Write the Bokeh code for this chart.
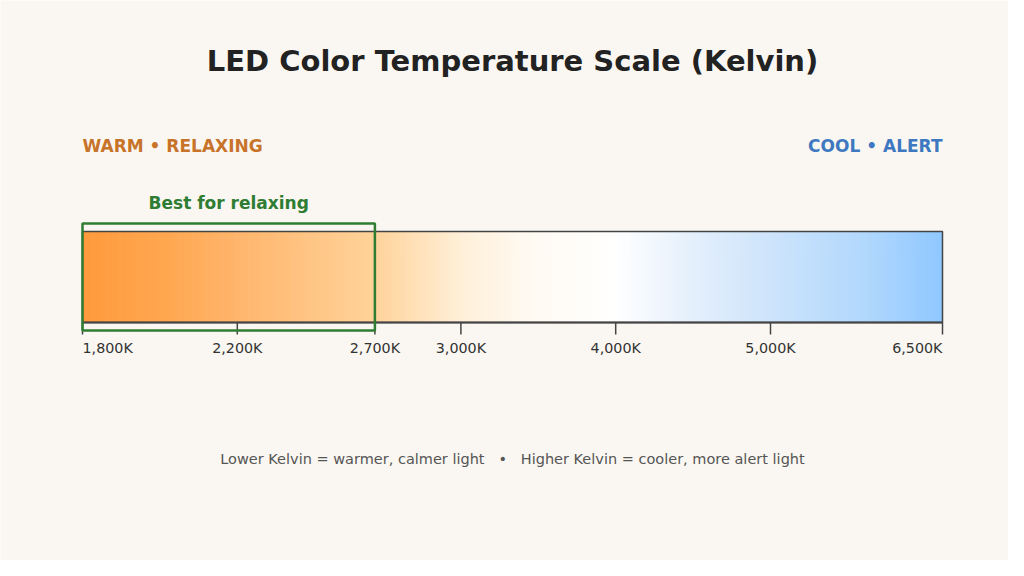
import numpy as np

from bokeh.core.properties import value
from bokeh.embed import file_html
from bokeh.models import ColumnDataSource, Range1d
from bokeh.plotting import figure
from bokeh.resources import INLINE

# scale ticks (Kelvin) and where they sit along the bar (% of bar length)
kelvin_ticks = [1800, 2200, 2700, 3000, 4000, 5000, 6500]
tick_labels = ["1,800K", "2,200K", "2,700K", "3,000K", "4,000K", "5,000K", "6,500K"]
scale_pos = [0, 18, 34, 44, 62, 80, 100]

# colour stops of the gradient
grad_kelvin = [1800, 2000, 2200, 2700, 3000, 3400, 4000, 4500, 5000, 5800, 6500]
grad_color = ["#ff9a3c", "#ffa64e", "#ffb56c", "#ffd39a", "#ffefd8", "#fff9f0",
              "#ffffff", "#e4effc", "#cde4fb", "#b2d8fd", "#8fc8ff"]

relax_range = [1800, 2700]

FONT = "DejaVu Sans"
BG = "#faf7f2"
SP = "\u00a0"


def kpos(k):
    return np.interp(k, kelvin_ticks, scale_pos)


def hex_rgb(h):
    return np.array([int(h[i:i + 2], 16) for i in (1, 3, 5)], dtype=float)


p = figure(width=1008, height=560, output_backend="svg", toolbar_location=None,
           x_range=Range1d(-82 / 8.6, 926 / 8.6), y_range=Range1d(560, 0),
           min_border=0)
p.axis.visible = False
p.grid.visible = False
p.outline_line_color = None
p.background_fill_color = BG
p.border_fill_color = BG

# gradient bar, built from thin strips
stop_pos = kpos(grad_kelvin)
stop_rgb = np.array([hex_rgb(c) for c in grad_color])
edges = np.linspace(0, 100, 401)
mids = (edges[:-1] + edges[1:]) / 2
cols = []
for m in mids:
    r, g, b = (np.interp(m, stop_pos, stop_rgb[:, i]) for i in range(3))
    cols.append("#%02x%02x%02x" % (int(round(r)), int(round(g)), int(round(b))))
strips = ColumnDataSource(dict(left=edges[:-1], right=np.minimum(edges[1:] + 0.08, 100), color=cols))
p.quad(left="left", right="right", top=231, bottom=322, fill_color="color",
       line_color=None, source=strips)

# bar outline and axis
p.quad(left=kpos(1800), right=kpos(6500), top=231, bottom=322, fill_color=None,
       line_color="#444444", line_width=1.5)
p.segment(x0=kpos(1800), x1=kpos(6500), y0=322, y1=322, line_color="#444444", line_width=2)
tick_x = kpos(kelvin_ticks)
p.segment(x0=tick_x, x1=tick_x, y0=322, y1=334, line_color="#444444", line_width=1.5)

aligns = ["left"] + ["center"] * (len(kelvin_ticks) - 2) + ["right"]
lbl = ColumnDataSource(dict(x=tick_x, y=[339] * len(tick_x), text=tick_labels, align=aligns))
p.text(x="x", y="y", text="text", text_align="align", text_baseline="top",
       text_font=value(FONT), text_font_size="14.3px", text_color="#333333", source=lbl)

# "best for relaxing" box
rx0, rx1 = kpos(relax_range)
p.quad(left=rx0, right=rx1, top=223, bottom=330, fill_color=None,
       line_color="#2e7d32", line_width=2.5)
p.text(x=[(rx0 + rx1) / 2], y=[202], text=["Best for relaxing"], text_align="center",
       text_baseline="middle", text_font=value(FONT), text_font_style="bold",
       text_font_size="17px", text_color="#2e7d32")

# headings
p.text(x=[50], y=[60], text=["LED Color Temperature Scale (Kelvin)"], text_align="center",
       text_baseline="middle", text_font=value(FONT), text_font_style="bold",
       text_font_size="29px", text_color="#222222")
p.text(x=[kpos(1800)], y=[145], text=["WARM \u2022 RELAXING"], text_align="left",
       text_baseline="middle", text_font=value(FONT), text_font_style="bold",
       text_font_size="17px", text_color="#c8732a")
p.text(x=[kpos(6500)], y=[145], text=["COOL \u2022 ALERT"], text_align="right",
       text_baseline="middle", text_font=value(FONT), text_font_style="bold",
       text_font_size="17px", text_color="#3d78c0")
note = "Lower Kelvin = warmer, calmer light" + SP * 3 + "\u2022" + SP * 3 + \
       "Higher Kelvin = cooler, more alert light"
p.text(x=[50], y=[458], text=[note], text_align="center", text_baseline="middle",
       text_font=value(FONT), text_font_size="14.5px", text_color="#555555")

open("out.html", "w").write(file_html(p, INLINE))
